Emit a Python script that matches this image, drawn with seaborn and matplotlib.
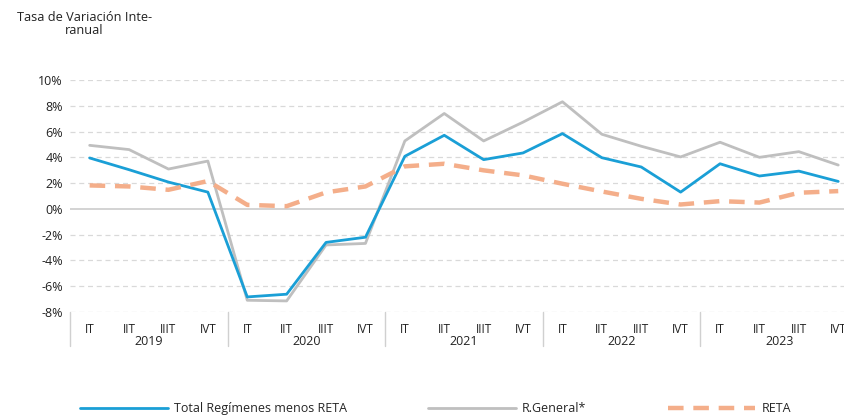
import matplotlib
matplotlib.use("Agg")
import matplotlib.pyplot as plt
import matplotlib.transforms as mtransforms
import numpy as np
import pandas as pd
import seaborn as sns

years = ["2019", "2020", "2021", "2022", "2023"]
quarters = ["IT", "IIT", "IIIT", "IVT"]

total_menos_reta = [3.95, 3.04, 2.08, 1.30, -6.83, -6.62, -2.60, -2.20, 4.08, 5.71,
                    3.82, 4.34, 5.84, 3.97, 3.25, 1.30, 3.50, 2.55, 2.93, 2.13]
r_general = [4.93, 4.60, 3.09, 3.71, -7.09, -7.14, -2.80, -2.68, 5.27, 7.40,
             5.27, 6.73, 8.31, 5.79, 4.86, 4.03, 5.17, 4.00, 4.44, 3.40]
reta = [1.82, 1.74, 1.48, 2.16, 0.31, 0.21, 1.28, 1.74, 3.30, 3.50,
        2.99, 2.60, 1.95, 1.35, 0.78, 0.34, 0.60, 0.49, 1.25, 1.38]

labels = [f"{q} {y}" for y in years for q in quarters]
pos = np.arange(len(labels))
df = pd.DataFrame({"pos": pos, "total": total_menos_reta, "general": r_general, "reta": reta})

sns.set_style("white")
plt.rcParams["font.family"] = ["Open Sans", "DejaVu Sans"]

fig = plt.figure(figsize=(8.45, 4.17), dpi=100)
ax = fig.add_axes([0.0828, 0.2518, 0.9325, 0.5564])

sns.lineplot(data=df, x="pos", y="general", ax=ax, color="#BFBFBF", linewidth=2.0,
             label="R.General*")
sns.lineplot(data=df, x="pos", y="total", ax=ax, color="#1A9FD6", linewidth=2.0,
             label="Total Regímenes menos RETA")
sns.lineplot(data=df, x="pos", y="reta", ax=ax, color="#F4AE8A", linewidth=3.2,
             label="RETA")
ax.lines[-1].set_dashes((3.5, 2.2))

ax.set_ylim(-8, 10)
ax.set_xlim(-0.5, len(labels) - 0.5)
ax.set_yticks(range(-8, 11, 2))
ax.set_yticklabels([f"{v}%" for v in range(-8, 11, 2)], fontsize=9, color="#222222")
for v in range(-8, 11, 2):
    if v == 0:
        ax.axhline(v, color="#D0D0D0", lw=1.3, zorder=0)
    else:
        ax.axhline(v, color="#D9D9D9", lw=0.9, ls=(0, (4, 3)), zorder=0)
for s in ax.spines.values():
    s.set_visible(False)
ax.tick_params(axis="y", length=0, pad=5)
ax.set_xticks(pos)
ax.set_xticklabels([q for y in years for q in quarters], fontsize=8.5, color="#222222")
ax.tick_params(axis="x", length=0, pad=8)
ax.set_xlabel("")
ax.set_ylabel("")

trans = mtransforms.blended_transform_factory(ax.transData, ax.transAxes)
for i in range(len(years) + 1):
    x = i * 4 - 0.5
    ax.plot([x, x], [0, -0.145], transform=trans, color="#D0D0D0", lw=1, clip_on=False)
for i, y in enumerate(years):
    ax.text(i * 4 + 1.5, -0.128, y, transform=trans, ha="center", va="center",
            fontsize=9, color="#222222")

fig.text(0.1, 0.943, "Tasa de Variación Inte-\nranual", ha="center", va="center",
         fontsize=9.2, color="#222222", linespacing=1.0)

handles, lbls = ax.get_legend_handles_labels()
order = [1, 0, 2]
ax.get_legend().remove()
fig.legend([handles[i] for i in order], [lbls[i] for i in order], loc="center left",
           bbox_to_anchor=(0.095, 0.02), ncol=3, frameon=False, fontsize=9,
           handlelength=7.0, columnspacing=6.5, handletextpad=0.5, borderaxespad=0,
           borderpad=0)

fig.savefig("out.png", dpi=100)
